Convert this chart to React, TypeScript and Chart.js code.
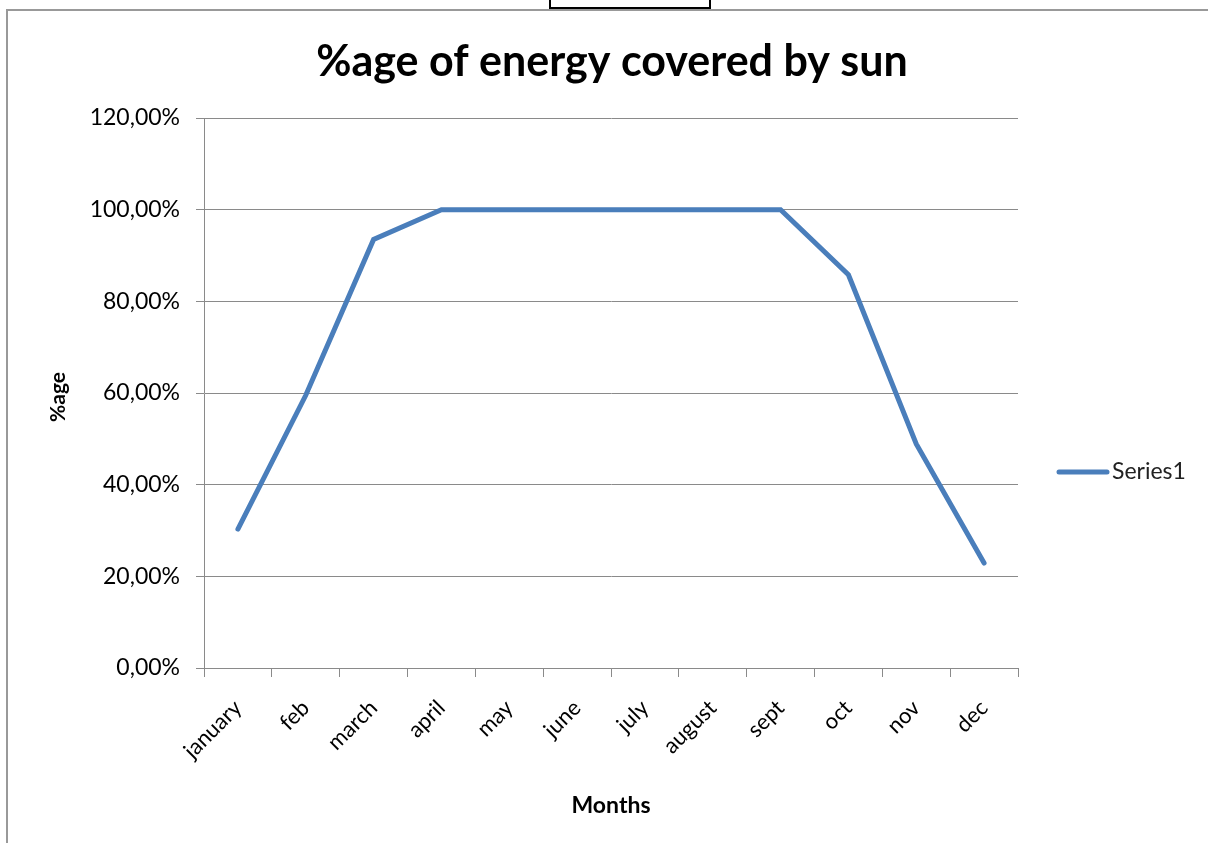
import React, { useEffect, useRef } from "react";
import { Chart, registerables } from "chart.js";

Chart.register(...registerables);

const MONTHS = ["january", "feb", "march", "april", "may", "june", "july", "august", "sept", "oct", "nov", "dec"];
const SERIES1 = [0.303, 0.595, 0.935, 1, 1, 1, 1, 1, 1, 0.858, 0.489, 0.229];
const Y_MIN = 0;
const Y_MAX = 1.2;
const Y_STEP = 0.2;
const TITLE = "%age of energy covered by sun";
const X_TITLE = "Months";
const Y_TITLE = "%age";
const SERIES_LABEL = "Series1";

const FONT = "Lato, 'Open Sans', sans-serif";
const LINE_COLOR = "#4A7EBB";
const GRID_COLOR = "#8a8a8a";

const fmtPct = (v: number) => (v * 100).toFixed(2).replace(".", ",") + "%";

const decor = {
  id: "decor",
  afterDraw(chart: any) {
    const { ctx, chartArea } = chart;
    const cx = (chartArea.left + chartArea.right) / 2;
    ctx.save();
    ctx.fillStyle = "#000";
    ctx.textAlign = "center";
    ctx.textBaseline = "middle";
    ctx.font = `bold 43px ${FONT}`;
    ctx.fillText(TITLE, cx + 1, 62);
    ctx.font = `bold 23px ${FONT}`;
    ctx.fillText(X_TITLE, cx, 806);
    ctx.save();
    ctx.translate(58, 397);
    ctx.rotate(-Math.PI / 2);
    ctx.font = `bold 21px ${FONT}`;
    ctx.fillText(Y_TITLE, 0, 0);
    ctx.restore();
    // legend
    const ds = chart.data.datasets[0];
    ctx.strokeStyle = ds.borderColor;
    ctx.lineWidth = 5;
    ctx.lineCap = "round";
    ctx.beginPath();
    ctx.moveTo(1059, 472);
    ctx.lineTo(1107, 472);
    ctx.stroke();
    ctx.fillStyle = "#222";
    ctx.textAlign = "left";
    ctx.font = `23px ${FONT}`;
    ctx.fillText(ds.label, 1112, 472);
    ctx.restore();
  },
};

export default function App() {
  const ref = useRef<HTMLCanvasElement | null>(null);
  useEffect(() => {
    if (!ref.current) return;
    const chart = new Chart(ref.current, {
      type: "line",
      data: {
        labels: MONTHS,
        datasets: [
          {
            label: SERIES_LABEL,
            data: SERIES1,
            borderColor: LINE_COLOR,
            backgroundColor: LINE_COLOR,
            borderWidth: 5,
            pointRadius: 0,
            pointHoverRadius: 0,
            tension: 0,
            borderCapStyle: "round",
            borderJoinStyle: "miter",
          },
        ],
      },
      options: {
        responsive: false,
        animation: false,
        layout: { padding: { left: 0, top: 118, right: 190, bottom: 0 } },
        plugins: {
          legend: { display: false },
          title: { display: false },
          tooltip: { enabled: false },
        },
        scales: {
          x: {
            type: "category",
            offset: true,
            afterFit: (s: any) => {
              s.height = 175;
            },
            grid: {
              display: true,
              drawOnChartArea: false,
              drawTicks: true,
              tickLength: 9,
              offset: true,
              color: GRID_COLOR,
              lineWidth: 1,
            },
            border: { display: true, color: GRID_COLOR, width: 1 },
            ticks: {
              autoSkip: false,
              minRotation: 45,
              maxRotation: 45,
              padding: 18,
              color: "#000",
              font: { family: FONT, size: 22 },
            },
          },
          y: {
            min: Y_MIN,
            max: Y_MAX,
            afterFit: (s: any) => {
              s.width = 204;
            },
            grid: {
              color: GRID_COLOR,
              lineWidth: 1,
              tickLength: 8,
              drawTicks: true,
            },
            border: { display: true, color: GRID_COLOR, width: 1 },
            ticks: {
              stepSize: Y_STEP,
              padding: 16,
              color: "#000",
              font: { family: FONT, size: 23 },
              callback: (v: any) => fmtPct(Number(v)),
            },
          },
        },
      },
      plugins: [decor],
    });
    return () => chart.destroy();
  }, []);

  return (
    <div style={{ position: "fixed", left: 0, top: 0, width: 1208, height: 843, background: "#fff", overflow: "hidden" }}>
      <div style={{ position: "absolute", left: 549, top: -2, width: 158, height: 7, border: "2px solid #000", background: "#fff" }} />
      <div style={{ position: "absolute", left: 6, top: 9, width: 1202, height: 2, background: "#999" }} />
      <div style={{ position: "absolute", left: 6, top: 9, width: 2, height: 834, background: "#999" }} />
      <canvas ref={ref} width={1208} height={843} style={{ position: "absolute", left: 0, top: 0 }} />
    </div>
  );
}
